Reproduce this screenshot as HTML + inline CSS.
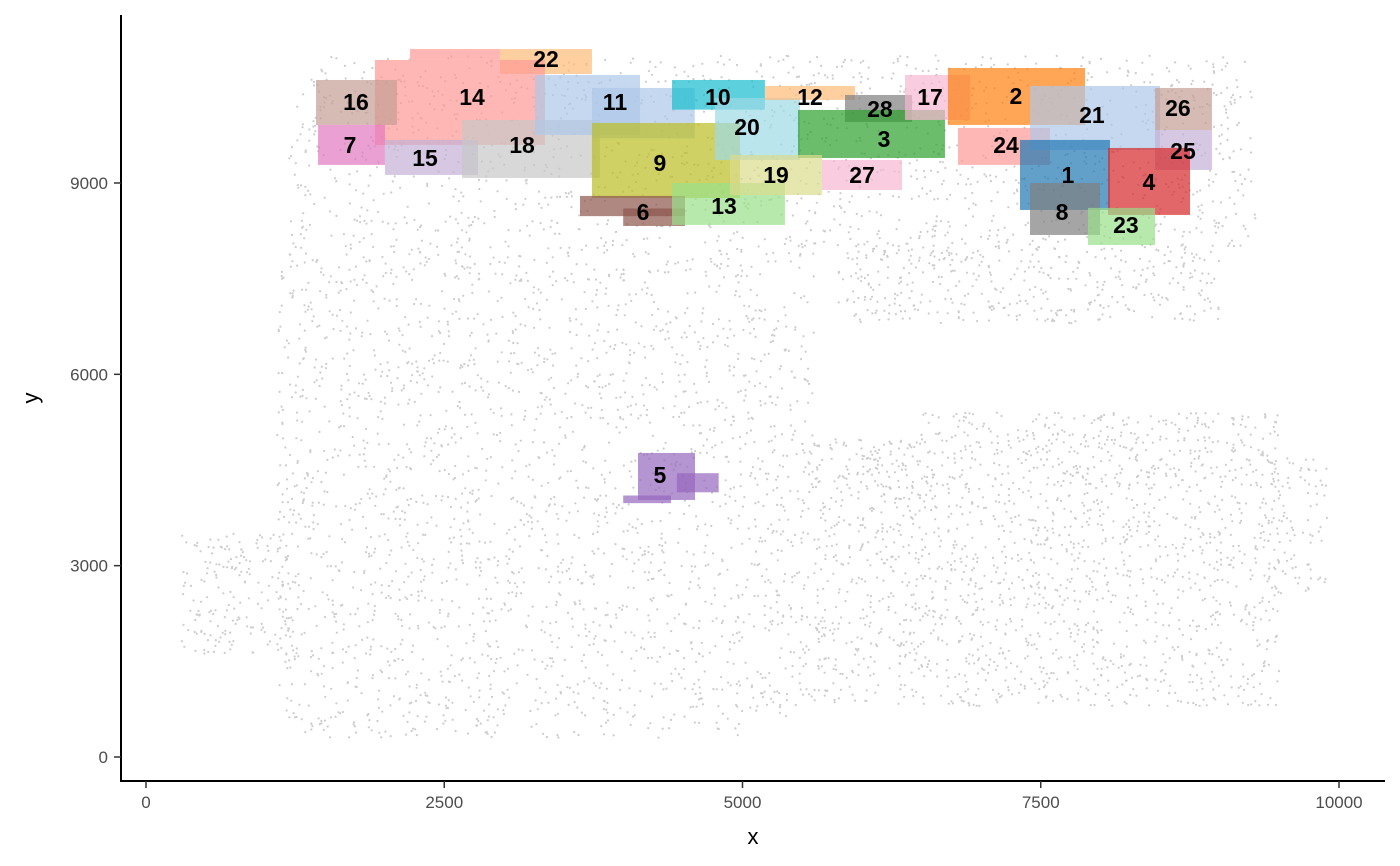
<!DOCTYPE html>
<html><head><meta charset="utf-8">
<style>
html,body{margin:0;padding:0;background:#fff;}
svg{display:block;font-family:"Liberation Sans","DejaVu Sans",sans-serif;}
</style></head>
<body>
<svg id="chart" width="1400" height="866" viewBox="0 0 1400 866">
  <g id="bg"></g>
  <g id="clusters"></g>
  <g id="labels"></g>
  <g id="axes"></g>
</svg>
<script>
// ---- data ----
const xTicks = [0, 2500, 5000, 7500, 10000];
const yTicks = [0, 3000, 6000, 9000];
const clusterIds = [22,14,16,7,15,18,11,9,6,10,20,12,28,3,17,2,24,21,26,25,1,4,8,23,13,19,27,5];
const clusterColors = ["#ffbb78","#ff9896","#c49c94","#e377c2","#c5b0d5","#c7c7c7","#aec7e8","#bcbd22","#8c564b","#17becf","#9edae5","#ffbb78","#7f7f7f","#2ca02c","#f7b6d2","#ff7f0e","#ff9896","#aec7e8","#c49c94","#c5b0d5","#1f77b4","#d62728","#7f7f7f","#98df8a","#98df8a","#dbdb8d","#f7b6d2","#9467bd"];
// rectangles per cluster: [x0,x1,y0,y1] in data units
const clusterRects = [
  [[2967,3738,10709,11100]],
  [[1919,3344,9596,10929],[2213,2967,10929,11100]],
  [[1425,2104,9910,10615]],
  [[1442,2003,9283,9910]],
  [[2003,2783,9126,9675]],
  [[2649,3805,9079,9988]],
  [[3261,4141,9753,10694],[3738,4600,9700,10490]],
  [[3738,4979,8765,9941]],
  [[3638,4518,8480,8797],[4000,4518,8326,8600]],
  [[4409,5188,10150,10615]],
  [[4769,5482,9361,10333]],
  [[5188,5943,10302,10521]],
  [[5859,6421,9957,10380]],
  [[5465,6697,9392,10145]],
  [[6362,6907,9988,10694]],
  [[6722,7871,9910,10803]],
  [[6806,7577,9283,9863]],
  [[7410,8500,9518,10521]],
  [[8458,8935,9831,10490]],
  [[8458,8935,9204,9831]],
  [[7326,8080,8577,9675]],
  [[8064,8751,8499,9549]],
  [[7410,7997,8185,9000]],
  [[7896,8458,8028,8609]],
  [[4409,5356,8342,9000]],
  [[4895,5666,8812,9439]],
  [[5666,6337,8890,9361]],
  [[4124,4602,4030,4767],[4000,4400,3980,4100],[4450,4800,4150,4450]]
];
const labelX = [3353,2733,1760,1710,2339,3152,3931,4308,4166,4794,5038,5566,6152,6186,6572,7292,7209,7929,8650,8692,7728,8407,7678,8214,4845,5281,6002,4308];
const labelY = [10945,10349,10270,9596,9392,9596,10270,9314,8546,10349,9878,10349,10161,9690,10349,10364,9596,10067,10176,9502,9126,9016,8546,8342,8640,9126,9126,4422];
// background tissue regions (data units) and cell counts
const bgRegions = [[1200,9300,8000,11000],[5800,9000,6800,8000],[1100,5600,600,8000],[1300,5000,300,600],[300,1200,1600,3500],[5600,9500,800,4200],[6500,9500,4200,5400],[9400,9900,2500,4700],[5600,6500,4200,5000]];
const bgCounts = [1500,400,2300,80,180,1300,450,90,120];

// ---- scales ----
const X = v => 146 + v * 0.1193;
const Y = v => 757 - v * 0.06378;
const NS = "http://www.w3.org/2000/svg";
function mk(tag, attrs, parent){const e=document.createElementNS(NS,tag);for(const k in attrs)e.setAttribute(k,attrs[k]);parent.appendChild(e);return e;}

// background points (seeded texture)
let seed = 12345;
function rnd(){seed=(seed*1103515245+12345)%2147483648;return seed/2147483648;}
const bg = document.getElementById('bg');
let pts = "";
bgRegions.forEach((r,i)=>{
  for(let k=0;k<bgCounts[i];k++){
    const x=r[0]+rnd()*(r[1]-r[0]), y=r[2]+rnd()*(r[3]-r[2]);
    pts += `M${X(x).toFixed(1)} ${Y(y).toFixed(1)}h0.01`;
  }
});
const bgPath = mk('path',{d:pts,stroke:'#999','stroke-opacity':'0.5','stroke-width':'2.2','stroke-linecap':'round',fill:'none'},bg);



// clusters
const cg = document.getElementById('clusters');
clusterIds.forEach((id,i)=>{
  const g = mk('g',{},cg);
  
  
  clusterRects[i].forEach(r=>{
    const rect = mk('rect',{x:X(r[0]),y:Y(r[3]),width:X(r[1])-X(r[0]),height:Y(r[2])-Y(r[3]),fill:clusterColors[i],'fill-opacity':'0.7'},g);
    
    
  });
});
const lg = document.getElementById('labels');
clusterIds.forEach((id,i)=>{
  const t = mk('text',{x:X(labelX[i]),y:Y(labelY[i])+8,'text-anchor':'middle','font-size':'23','font-weight':'bold',fill:'#000'},lg);
  t.textContent = id;
  
  
});

// axes
const ax = document.getElementById('axes');
mk('line',{x1:121,y1:15,x2:121,y2:782,stroke:'#000','stroke-width':2},ax);
mk('line',{x1:120,y1:781,x2:1385,y2:781,stroke:'#000','stroke-width':2},ax);
xTicks.forEach(v=>{
  mk('line',{x1:X(v),y1:781,x2:X(v),y2:788,stroke:'#333','stroke-width':1.5},ax);
  const t=mk('text',{x:X(v),y:808,'text-anchor':'middle','font-size':'17',fill:'#4d4d4d'},ax);
  t.textContent=v;
  
  
});
yTicks.forEach(v=>{
  mk('line',{x1:114,y1:Y(v),x2:121,y2:Y(v),stroke:'#333','stroke-width':1.5},ax);
  const t=mk('text',{x:108,y:Y(v)+6,'text-anchor':'end','font-size':'17',fill:'#4d4d4d'},ax);
  t.textContent=v;
  
  
});
const xt=mk('text',{x:753,y:844,'text-anchor':'middle','font-size':'22',fill:'#000'},ax);
xt.textContent='x';


const yt=mk('text',{x:38,y:398,'text-anchor':'middle','font-size':'22',fill:'#000',transform:'rotate(-90 38 398)'},ax);
yt.textContent='y';


</script>
</body></html>
